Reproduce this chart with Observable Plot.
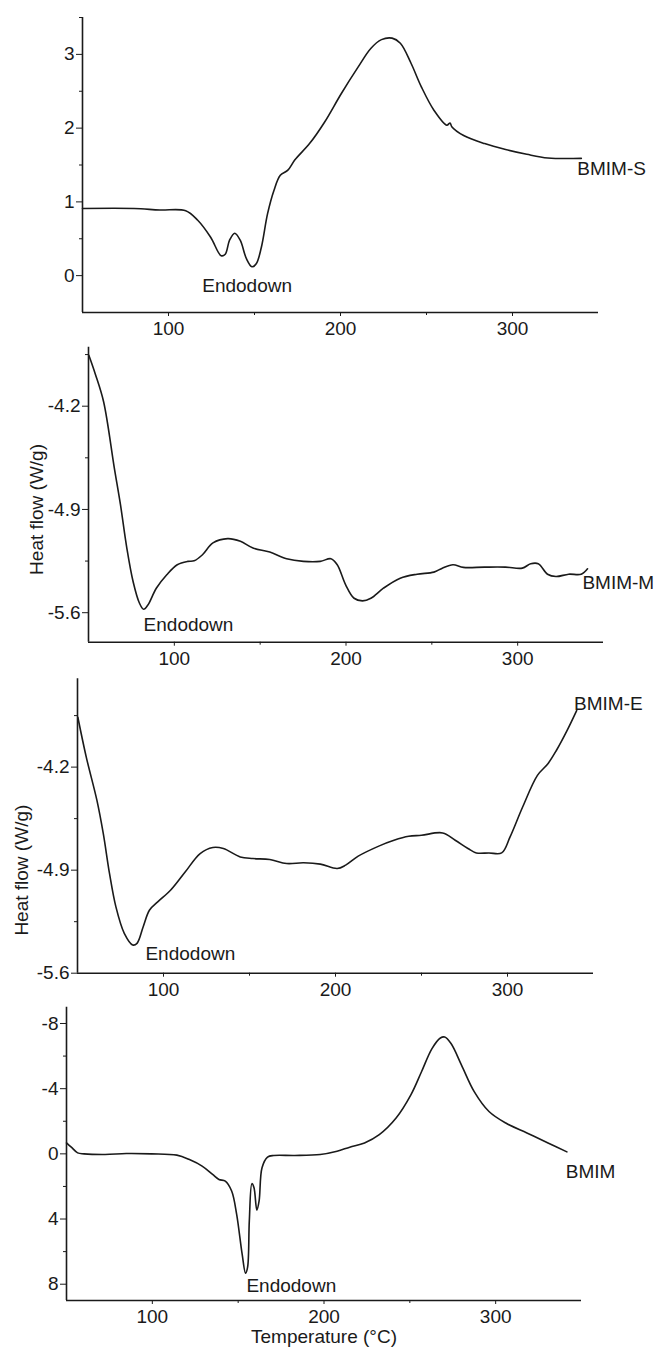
<!DOCTYPE html>
<html><head><meta charset="utf-8">
<script src="https://cdn.jsdelivr.net/npm/d3@7"></script>
<script src="https://cdn.jsdelivr.net/npm/@observablehq/plot@0.6"></script>
<style>
body{margin:0;background:#fff}
#wrap{position:relative;width:660px;height:1354px;overflow:hidden;background:#fff}
#wrap svg{position:absolute;left:0}
</style>
</head><body><div id="wrap"></div>
<script>
// ---- Data (Temperature °C, Heat flow W/g) ----
const tempS = [50,80,95,110,117,124.5,130.6,133,135.5,138.5,141.7,145.3,148.5,151,154,157.6,161.3,165,169.4,173.5,182,190.7,200.5,210.3,217.6,223.8,230,234.8,241,247,254.4,261.8,263.7,264.7,271.6,283.8,296,308.3,320.6,340];
const flowS = [0.91,0.91,0.89,0.88,0.75,0.52,0.27,0.29,0.48,0.575,0.48,0.23,0.12,0.16,0.385,0.84,1.155,1.36,1.43,1.57,1.79,2.08,2.47,2.83,3.08,3.2,3.22,3.15,2.88,2.56,2.24,2.04,2.07,2.02,1.9,1.79,1.71,1.645,1.595,1.59];

const tempM = [50.2,53.9,58.8,65,68.6,72.3,76,79.7,82.1,84.6,89.5,95.6,101.7,107.8,111.5,116.4,122.5,131.1,138.5,145.8,155.6,165.4,175.2,185,191.2,194.9,199.8,204.7,209.6,214.5,221.8,231.6,241.4,251.2,256.1,262.3,268.4,280.6,292.9,302.7,307.6,312,317.4,322.3,329.7,337,340.7];
const flowM = [-3.855,-3.98,-4.17,-4.616,-4.866,-5.16,-5.39,-5.536,-5.577,-5.548,-5.434,-5.343,-5.275,-5.252,-5.248,-5.207,-5.127,-5.098,-5.116,-5.161,-5.189,-5.234,-5.252,-5.252,-5.234,-5.275,-5.411,-5.502,-5.52,-5.502,-5.434,-5.366,-5.339,-5.325,-5.298,-5.275,-5.293,-5.291,-5.291,-5.298,-5.268,-5.268,-5.339,-5.355,-5.339,-5.339,-5.302];

const tempE = [50.2,55.1,61.3,65,68.6,72.3,77.2,82.1,84.6,88.2,91.9,96.8,104.2,112.7,121.3,128.7,134.8,144.6,152,161.8,171.6,181.4,191.2,201,205.9,213.2,225.5,234,242.6,250,262.3,269.6,277,281.9,289.2,296.6,301.5,308.8,317.4,323.5,328.4,334.6,340.2];
const flowE = [-3.861,-4.132,-4.426,-4.652,-4.922,-5.148,-5.329,-5.408,-5.397,-5.284,-5.171,-5.114,-5.035,-4.911,-4.787,-4.746,-4.753,-4.81,-4.821,-4.828,-4.855,-4.85,-4.859,-4.889,-4.866,-4.805,-4.735,-4.697,-4.67,-4.663,-4.647,-4.697,-4.753,-4.783,-4.783,-4.783,-4.674,-4.471,-4.256,-4.177,-4.087,-3.952,-3.816];

const tempB = [50,52.8,56.5,60.2,72.5,84.8,99.5,114.3,121.6,129,135.1,138.8,142.5,146.2,149.1,152.3,154.3,155.5,156.5,158,159.2,160.9,162.2,163.9,167.1,170.8,183,197.8,207.6,215,223.6,232.2,242,250.6,256.8,262.9,267.8,270.3,274,280.1,287.5,296.1,305.9,318.2,330.5,341.5];
const flowB = [-0.67,-0.41,-0.06,0,0.04,-0.02,0,0.08,0.35,0.75,1.26,1.57,1.67,2.28,3.7,6.14,7.32,6.95,4.1,1.83,2.07,3.46,2.89,0.85,0.2,0.1,0.1,0.04,-0.16,-0.41,-0.67,-1.18,-2.2,-3.62,-5.04,-6.46,-7.11,-7.17,-6.77,-5.45,-3.82,-2.6,-1.89,-1.28,-0.67,-0.12];

// ---- Axis ticks and labels ----
const xDomain = [50, 350];
const xMajor = [100, 200, 300];
const xMinor = [150, 250];
const yDomainS = [-0.5, 3.5], yMajorS = [0, 1, 2, 3], yMinorS = [0.5, 1.5, 2.5, 3.5];
const yDomainM = [-5.8, -3.8], yMajorM = [-5.6, -4.9, -4.2], yMinorM = [-5.25, -4.55, -3.85];
const yDomainE = [-5.6, -3.6], yMajorE = [-5.6, -4.9, -4.2], yMinorE = [-5.25, -4.55, -3.85];
const yDomainB = [-9, 9], yMajorB = [-8, -4, 0, 4, 8], yMinorB = [-6, -2, 2, 6];
const names = ["BMIM-S", "BMIM-M", "BMIM-E", "BMIM"];
const nameX = [337.7, 337.7, 338.7, 340.8];
const nameY = [1.45, -5.4, -3.77, 1.1];
const endoLabel = "Endodown";
const endoX = [119.6, 82.1, 89.5, 154.8];
const endoY = [-0.14, -5.68, -5.47, 8.1];
const yTitle = "Heat flow (W/g)";
const yTitleAt = -4.9;
const xTitle = "Temperature (°C)";

const INK = "#1a1a1a";
const FONT = "'Liberation Sans', Arial, Helvetica, sans-serif";

function panel(o) {
  const marks = [
    Plot.ruleX([xDomain[0]], {stroke: INK, strokeWidth: 1.6}),
    Plot.ruleY([o.reverse ? o.yDomain[1] : o.yDomain[0]], {stroke: INK, strokeWidth: 1.6}),
    Plot.axisY(o.yMajor, {anchor: "left", tickSize: 6, tickPadding: 2, tickFormat: d => String(d), label: null, stroke: INK, fill: INK}),
    Plot.axisY(o.yMinor, {anchor: "left", tickSize: 3, tickFormat: () => "", label: null, stroke: INK}),
    Plot.axisX(xMajor, {anchor: "bottom", tickSize: 4, tickPadding: 5, tickFormat: d => String(d), label: null, stroke: INK, fill: INK}),
    Plot.axisX(xMinor, {anchor: "bottom", tickSize: 3, tickFormat: () => "", label: null, stroke: INK}),
    Plot.line(o.xs.map((t, i) => ({t, f: o.ys[i]})), {x: "t", y: "f", curve: "catmull-rom", stroke: INK, strokeWidth: 1.6}),
    Plot.text([o.name], {x: o.nx, y: o.ny, textAnchor: "start", fill: INK}),
    Plot.text([endoLabel], {x: o.ex, y: o.ey, textAnchor: "start", fill: INK})
  ];
  if (o.ylabel) marks.push(Plot.text([yTitle], {x: xDomain[0], y: yTitleAt, rotate: -90, dx: o.ldx, fill: INK, fontSize: 19}));
  if (o.xlabel) marks.push(Plot.text([xTitle], {frameAnchor: "bottom", dy: 42, fill: INK, fontSize: 19}));
  const svg = Plot.plot({
    width: 660, height: o.height,
    marginTop: o.mt, marginBottom: o.mb, marginLeft: o.ml, marginRight: o.mr,
    x: {domain: xDomain},
    y: {domain: o.yDomain, reverse: !!o.reverse},
    style: {fontSize: "19px", fontFamily: FONT, background: "transparent", overflow: "visible", color: INK},
    marks
  });
  svg.style.top = o.top + "px";
  document.getElementById("wrap").appendChild(svg);
}

panel({top: 0, height: 340, mt: 17, mb: 28, ml: 82, mr: 62, xs: tempS, ys: flowS, yDomain: yDomainS, yMajor: yMajorS, yMinor: yMinorS, name: names[0], nx: nameX[0], ny: nameY[0], ex: endoX[0], ey: endoY[0]});
panel({top: 340, height: 336, mt: 6.7, mb: 34.3, ml: 88, mr: 57, xs: tempM, ys: flowM, yDomain: yDomainM, yMajor: yMajorM, yMinor: yMinorM, name: names[1], nx: nameX[1], ny: nameY[1], ex: endoX[1], ey: endoY[1], ylabel: true, ldx: -52});
panel({top: 676, height: 328, mt: 2.3, mb: 31.3, ml: 77, mr: 67, xs: tempE, ys: flowE, yDomain: yDomainE, yMajor: yMajorE, yMinor: yMinorE, name: names[2], nx: nameX[2], ny: nameY[2], ex: endoX[2], ey: endoY[2], ylabel: true, ldx: -56});
panel({top: 1004, height: 350, mt: 2.7, mb: 54, ml: 66, mr: 79, xs: tempB, ys: flowB, yDomain: yDomainB, reverse: true, yMajor: yMajorB, yMinor: yMinorB, name: names[3], nx: nameX[3], ny: nameY[3], ex: endoX[3], ey: endoY[3], xlabel: true});
</script>
</body></html>
